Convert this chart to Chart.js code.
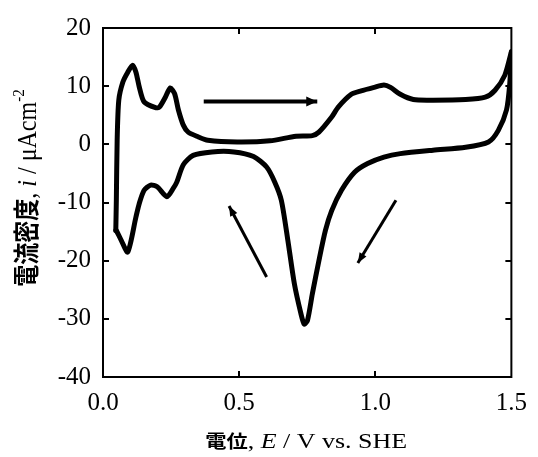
<!DOCTYPE html>
<html>
<head>
<meta charset="utf-8">
<script src="https://cdn.jsdelivr.net/npm/chart.js@4/dist/chart.umd.min.js"></script>
<style>
html,body{margin:0;padding:0;background:#fff;}
canvas{display:block;}
</style>
</head>
<body>
<canvas id="c" width="538" height="457"></canvas>
<script>
// Axis settings
const xTicks = [0.0, 0.5, 1.0, 1.5];
const yTicks = [-40, -30, -20, -10, 0, 10, 20];

// Anodic sweep (0.05 V -> 1.5 V)
const anodicE = [0.047,0.049,0.052,0.058,0.073,0.091,0.109,0.121,0.133,0.151,0.193,0.207,0.229,0.247,0.263,0.277,0.295,0.313,0.349,0.385,0.493,0.613,0.709,0.769,0.793,0.840,0.864,0.912,0.948,0.996,1.032,1.056,1.092,1.140,1.212,1.332,1.404,1.440,1.476,1.500];
const anodicI = [-14.8,-9.6,0.7,7.6,10.7,12.4,13.6,12.4,9.9,7.3,6.3,6.4,8.1,9.7,8.7,5.9,3.3,2.1,1.3,0.7,0.4,0.6,1.4,1.5,2.1,4.7,6.4,8.6,9.2,9.8,10.2,9.8,8.6,7.7,7.6,7.7,8.1,9.3,11.9,15.9];

// Cathodic sweep (1.5 V -> 0.05 V)
const cathodicE = [1.500,1.494,1.482,1.452,1.416,1.332,1.212,1.092,1.032,0.972,0.924,0.876,0.840,0.817,0.793,0.769,0.751,0.739,0.727,0.703,0.679,0.655,0.631,0.601,0.553,0.481,0.400,0.331,0.295,0.271,0.259,0.235,0.199,0.175,0.151,0.133,0.121,0.091,0.067,0.049,0.047];
const cathodicI = [15.9,10.4,5.9,2.4,0.4,-0.5,-1.0,-1.6,-2.2,-3.3,-4.8,-7.9,-11.4,-14.8,-20.0,-25.7,-30.3,-30.9,-29.1,-24.0,-16.5,-9.6,-6.5,-3.9,-2.1,-1.3,-1.3,-1.9,-3.5,-6.5,-7.5,-9.0,-7.3,-7.0,-7.9,-10.2,-12.5,-18.5,-16.5,-14.8,-14.8];

// Sweep direction arrows (tail -> head)
const arrow1E = [0.370, 0.787], arrow1I = [7.35, 7.35];
const arrow2E = [0.601, 0.463], arrow2I = [-22.8, -10.6];
const arrow3E = [1.076, 0.936], arrow3I = [-9.6, -20.4];

const toPts = (xs, ys) => xs.map((x, k) => ({x: x, y: ys[k]}));

const SERIF = '"Liberation Serif","Times New Roman",serif';
const CJK = '"Noto Sans CJK JP","Noto Sans CJK SC",sans-serif';

const framePlugin = {
  id: 'frame',
  afterDraw(chart) {
    const {ctx, chartArea: a, scales} = chart;
    ctx.save();
    ctx.strokeStyle = '#000';
    ctx.lineWidth = 2;
    ctx.strokeRect(a.left, a.top, a.right - a.left, a.bottom - a.top);
    const tl = 6;
    ctx.beginPath();
    xTicks.forEach(v => {
      const px = Math.round(scales.x.getPixelForValue(v));
      if (px <= a.left + 1 || px >= a.right - 1) return;
      ctx.moveTo(px, a.bottom); ctx.lineTo(px, a.bottom - tl);
      ctx.moveTo(px, a.top); ctx.lineTo(px, a.top + tl);
    });
    yTicks.forEach(v => {
      const py = Math.round(scales.y.getPixelForValue(v));
      if (py <= a.top + 1 || py >= a.bottom - 1) return;
      ctx.moveTo(a.left, py); ctx.lineTo(a.left + tl, py);
      ctx.moveTo(a.right, py); ctx.lineTo(a.right - tl, py);
    });
    ctx.stroke();

    // arrowheads
    chart.data.datasets.forEach((ds, di) => {
      if (!ds.arrow) return;
      const pts = chart.getDatasetMeta(di).data;
      const p1 = pts[pts.length - 2], p2 = pts[pts.length - 1];
      const ang = Math.atan2(p2.y - p1.y, p2.x - p1.x);
      const L = ds.headLen, W = ds.headW;
      ctx.fillStyle = '#000';
      ctx.beginPath();
      ctx.moveTo(p2.x, p2.y);
      ctx.lineTo(p2.x - L * Math.cos(ang) + W / 2 * Math.sin(ang), p2.y - L * Math.sin(ang) - W / 2 * Math.cos(ang));
      ctx.lineTo(p2.x - L * Math.cos(ang) - W / 2 * Math.sin(ang), p2.y - L * Math.sin(ang) + W / 2 * Math.cos(ang));
      ctx.closePath();
      ctx.fill();
    });

    // axis titles (mixed fonts)
    ctx.fillStyle = '#000';
    ctx.textBaseline = 'alphabetic';
    const drawParts = (parts) => {
      let w = 0;
      parts.forEach(p => { ctx.font = p.font; p.w = ctx.measureText(p.t).width; w += p.w; });
      let x = -w / 2;
      parts.forEach(p => { ctx.font = p.font; ctx.fillText(p.t, x, p.dy || 0); x += p.w; });
    };
    // x title
    ctx.save();
    ctx.translate((a.left + a.right) / 2 - 1, 448);
    ctx.scale(1.18, 1);
    drawParts([
      {t: '電位', font: 'bold 18px ' + CJK},
      {t: ', ', font: '22px ' + SERIF},
      {t: 'E', font: 'italic 22px ' + SERIF},
      {t: ' / V vs. SHE', font: '22px ' + SERIF}
    ]);
    ctx.restore();
    // y title
    ctx.save();
    ctx.translate(36, 188);
    ctx.rotate(-Math.PI / 2);
    ctx.scale(1, 1.18);
    drawParts([
      {t: '電流密度', font: 'bold 22px ' + CJK},
      {t: ', ', font: '24px ' + SERIF},
      {t: 'i', font: 'italic 24px ' + SERIF},
      {t: ' / μAcm', font: '24px ' + SERIF},
      {t: '-2', font: '15px ' + SERIF, dy: -10}
    ]);
    ctx.restore();
    ctx.restore();
  }
};

new Chart(document.getElementById('c'), {
  type: 'scatter',
  data: {
    datasets: [
      {data: toPts(anodicE, anodicI), showLine: true, borderColor: '#000', borderWidth: 5, pointRadius: 0, tension: 0.25, borderJoinStyle: 'round', borderCapStyle: 'round'},
      {data: toPts(cathodicE, cathodicI), showLine: true, borderColor: '#000', borderWidth: 5, pointRadius: 0, tension: 0.25, borderJoinStyle: 'round', borderCapStyle: 'round'},
      {data: toPts(arrow1E, arrow1I), showLine: true, borderColor: '#000', borderWidth: 4, pointRadius: 0, tension: 0, arrow: true, headLen: 11, headW: 10},
      {data: toPts(arrow2E, arrow2I), showLine: true, borderColor: '#000', borderWidth: 3, pointRadius: 0, tension: 0, arrow: true, headLen: 10, headW: 8},
      {data: toPts(arrow3E, arrow3I), showLine: true, borderColor: '#000', borderWidth: 3, pointRadius: 0, tension: 0, arrow: true, headLen: 10, headW: 8}
    ]
  },
  options: {
    responsive: false,
    animation: false,
    devicePixelRatio: 1,
    layout: {padding: {left: 0, top: 28, right: 18, bottom: 0}},
    plugins: {legend: {display: false}, tooltip: {enabled: false}},
    scales: {
      x: {
        type: 'linear', min: 0, max: 1.5,
        afterBuildTicks: s => { s.ticks = xTicks.map(v => ({value: v})); },
        afterFit: s => { s.height = 80; },
        grid: {display: false, drawTicks: false},
        border: {display: false},
        ticks: {color: '#000', padding: 11, maxRotation: 0, font: {family: SERIF, size: 25}, callback: v => Number(v).toFixed(1)}
      },
      y: {
        type: 'linear', min: -40, max: 20,
        afterBuildTicks: s => { s.ticks = yTicks.map(v => ({value: v})); },
        afterFit: s => { s.width = 103; },
        grid: {display: false, drawTicks: false},
        border: {display: false},
        ticks: {color: '#000', padding: 12, font: {family: SERIF, size: 25}, callback: v => String(v)}
      }
    }
  },
  plugins: [framePlugin]
});
</script>
</body>
</html>
